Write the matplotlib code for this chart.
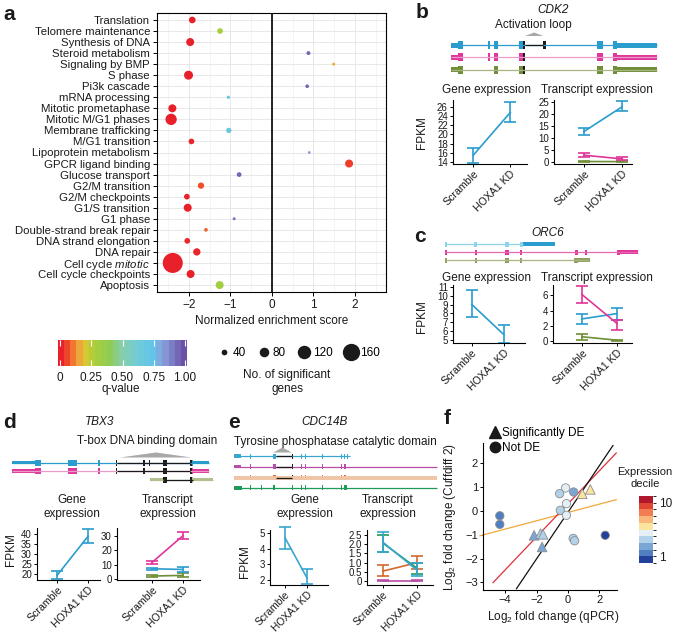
import numpy as np
import matplotlib
matplotlib.use("Agg")
import matplotlib.pyplot as plt
from matplotlib.colors import LinearSegmentedColormap, ListedColormap, BoundaryNorm, Normalize
from matplotlib.patches import Rectangle, Polygon
from matplotlib.lines import Line2D
import matplotlib.cm as cm

plt.rcParams['font.family'] = ['Liberation Sans', 'DejaVu Sans']
plt.rcParams['font.size'] = 8
plt.rcParams['mathtext.fontset'] = 'custom'
plt.rcParams['mathtext.rm'] = 'Liberation Sans'
plt.rcParams['mathtext.it'] = 'Liberation Sans:italic'
plt.rcParams['axes.linewidth'] = 0.8
plt.rcParams['axes.unicode_minus'] = True

# ---------------- DATA ----------------
# Panel a
pathways = ["Translation", "Telomere maintenance", "Synthesis of DNA", "Steroid metabolism",
            "Signaling by BMP", "S phase", "Pi3k cascade", "mRNA processing",
            "Mitotic prometaphase", "Mitotic M/G1 phases", "Membrane trafficking",
            "M/G1 transition", "Lipoprotein metabolism", "GPCR ligand binding",
            "Glucose transport", "G2/M transition", "G2/M checkpoints", "G1/S transition",
            "G1 phase", "Double-strand break repair", "DNA strand elongation", "DNA repair",
            r"Cell cycle $\it{mitotic}$", "Cell cycle checkpoints", "Apoptosis"]
nes = [-1.92, -1.25, -1.97, 0.88, 1.49, -2.01, 0.85, -1.05, -2.40, -2.43, -1.04, -1.94,
       0.90, 1.86, -0.79, -1.71, -2.05, -2.03, -0.91, -1.59, -2.04, -1.81, -2.39, -1.96, -1.26]
qvals = [0.0, 0.27, 0.0, 0.95, 0.16, 0.0, 0.95, 0.68, 0.0, 0.0, 0.68, 0.01, 0.85, 0.04,
         0.95, 0.06, 0.0, 0.0, 0.92, 0.08, 0.01, 0.01, 0.0, 0.0, 0.30]
ngenes = [50, 40, 64, 22, 12, 74, 19, 15, 64, 98, 36, 40, 9, 64, 30, 46, 40, 64, 12, 19,
          40, 57, 188, 64, 64]
size_keys = [40, 80, 120, 160]
q_ticks = [0, 0.25, 0.5, 0.75, 1.0]
q_ticklabels = ["0", "0.25", "0.50", "0.75", "1.00"]

conditions = ["Scramble", "HOXA1 KD"]

# Panel b (CDK2)
b_gene_mean = [15.5, 24.8]; b_gene_lo = [13.8, 22.6]; b_gene_hi = [17.0, 27.0]
b_tx_mean = {"blue": [12.8, 23.2], "pink": [2.8, 1.25], "olive": [0.15, 0.1]}
b_tx_lo = {"blue": [11.4, 21.4], "pink": [2.2, 0.6], "olive": [0.0, 0.0]}
b_tx_hi = {"blue": [14.4, 25.7], "pink": [3.6, 2.1], "olive": [0.3, 0.2]}

# Panel c (ORC6)
c_gene_mean = [9.0, 5.6]; c_gene_lo = [7.6, 4.7]; c_gene_hi = [10.6, 6.7]
c_tx_mean = {"olive": [0.55, 0.1], "blue": [2.9, 3.6], "pink": [6.1, 2.3]}
c_tx_lo = {"olive": [0.15, 0.05], "blue": [2.2, 2.75], "pink": [5.0, 1.5]}
c_tx_hi = {"olive": [0.95, 0.15], "blue": [3.6, 4.3], "pink": [7.2, 2.75]}

# Panel d (TBX3)
d_gene_mean = [19.2, 38.7]; d_gene_lo = [17.2, 35.2]; d_gene_hi = [21.5, 42.5]
d_tx_mean = {"olive": [1.8, 2.3], "blue": [7.0, 6.5], "pink": [11.5, 30.5]}
d_tx_lo = {"olive": [1.0, 1.0], "blue": [6.0, 5.0], "pink": [10.3, 28.0]}
d_tx_hi = {"olive": [2.5, 3.8], "blue": [7.8, 8.0], "pink": [12.8, 33.5]}

# Panel e (CDC14B)
e_gene_mean = [4.7, 2.1]; e_gene_lo = [4.0, 1.7]; e_gene_hi = [5.4, 2.7]
e_tx_mean = {"purple": [0.02, 0.02], "orange": [0.55, 1.0], "green": [2.05, 0.7], "blue": [2.1, 0.6]}
e_tx_lo = {"purple": [0.0, 0.0], "orange": [0.3, 0.65], "green": [1.6, 0.4], "blue": [1.6, 0.3]}
e_tx_hi = {"purple": [0.05, 0.05], "orange": [0.85, 1.35], "green": [2.5, 1.0], "blue": [2.65, 1.0]}

# Panel f
f_de_x = [0.91, 1.42, -2.16, -1.75, -1.59, -1.65]
f_de_y = [0.73, 0.91, -1.02, -0.95, -0.98, -1.51]
f_de_decile = [6, 6, 3, 4, 4, 3]
f_nde_x = [-4.34, -4.34, 2.37, 0.36, -0.15, -0.53, -0.10, -0.49, -0.10, 0.33, 0.42]
f_nde_y = [-0.20, -0.56, -1.02, 0.80, 0.97, 0.73, 0.31, 0.03, -0.18, -1.15, -1.25]
f_nde_decile = [2, 2, 1, 3, 5, 4, 5, 4, 5, 4, 4]
f_lines = {"black": (0.98, -0.05, -3.28, 2.86), "red": (0.695, 0.305, -4.77, 3.07),
           "orange": (0.175, -0.06, -5.6, 3.07)}
decile_colors = ['#23409a', '#4f7fc0', '#7aa6d6', '#b2d1ea', '#e4eff7', '#fbe4a0',
                 '#f9b879', '#f07e52', '#df4530', '#b2182b']

# Gene models (schematic coordinates)
CDK2_TRACKS = [
    {'span': (32, 650), 'utr': [(32, 58), (530, 650)],
     'exon': [(55, 68), (143, 150), (163, 175), (238, 250), (470, 490), (518, 532)],
     'dom': [(248, 256), (310, 317)], 'domline': [(256, 310)]},
    {'span': (32, 650), 'utr': [(32, 58), (530, 650)],
     'exon': [(55, 68), (143, 150), (163, 175), (238, 250), (470, 490), (518, 532)],
     'dom': [(248, 256)]},
    {'span': (32, 650), 'utr': [(32, 58), (530, 650)],
     'exon': [(55, 68), (163, 175), (238, 250), (470, 490), (518, 532)],
     'dom': [(248, 256)]},
]
CDK2_DOMAIN = (255, 310)
ORC6_TRACKS = [
    {'span': (15, 250), 'exon': [(15, 22), (103, 112), (196, 207), (240, 250)], 'utr': [(250, 345)]},
    {'span': (15, 595), 'exon': [(15, 22), (104, 111), (196, 206), (240, 247), (405, 413), (435, 441), (530, 540)],
     'utr': [(540, 595)]},
    {'span': (15, 450), 'exon': [(15, 22), (104, 110), (196, 206), (240, 247), (403, 415)], 'utr': [(415, 450)]},
]
TBX3_TRACKS = [
    {'span': (20, 612), 'utr': [(20, 92), (565, 612)], 'exon': [(90, 108), (188, 215), (280, 285), (555, 565)],
     'dom': [(332, 336), (414, 420), (432, 434), (475, 485), (555, 560)], 'domline': [(336, 555)]},
    {'span': (20, 612), 'utr': [(20, 92), (565, 612)], 'exon': [(90, 108), (188, 215), (280, 285), (555, 565)],
     'dom': [(332, 336), (414, 420), (475, 485), (555, 560)], 'domline': [(336, 555)]},
    {'span': (435, 625), 'utr': [(435, 475), (565, 625)], 'exon': [(555, 565)],
     'dom': [(475, 485), (555, 560)], 'domline': [(475, 565)]},
]
TBX3_DOMAIN = (345, 560)
CDC14B_TRACKS = [
    {'span': (28, 375), 'utr': [(28, 48)],
     'exon': [(75, 78), (145, 152), (229, 232), (241, 244), (291, 294), (347, 351), (356, 359), (365, 369)],
     'dom': [(200, 205)], 'domline': [(152, 200)]},
    {'span': (28, 635), 'utr': [(28, 48)],
     'exon': [(75, 78), (145, 152), (229, 232), (241, 244), (291, 294), (347, 351), (356, 364)],
     'dom': [(200, 205)], 'domline': [(152, 200)]},
    {'span': (28, 635), 'utr': [(28, 48)],
     'exon': [(75, 78), (145, 153), (229, 232), (241, 244), (291, 294), (347, 351), (356, 364)],
     'dom': [(200, 205)], 'domline': [(152, 200)]},
    {'span': (28, 635), 'utr': [(28, 50)],
     'exon': [(75, 78), (108, 110), (145, 150), (200, 205), (229, 232), (241, 244), (291, 294), (347, 351), (358, 365)]},
]
CDC14B_DOMAIN = (145, 200)

# colours
BLUE = '#2a9ccd'
PINK = '#e0359a'
OLIVE = '#6e8e37'
E_COL = {"blue": '#3aa6d0', "purple": '#b64fa6', "orange": '#d26a2c', "green": '#1f9a5b'}
TX_COL = {"blue": BLUE, "pink": PINK, "olive": OLIVE}
TXT = '#1a1a1a'
FS = 8.5      # titles / labels
YT = 7        # y tick labels in small panels
XT = 7.6      # rotated x tick labels

# ---------------- FIGURE ----------------
W, H = 675, 634
fig = plt.figure(figsize=(W / 100, H / 100), dpi=100)


def rect(x0, y0, x1, y1):
    return [x0 / W, 1 - y1 / H, (x1 - x0) / W, (y1 - y0) / H]


def T(x, y, s, **kw):
    kw.setdefault('color', TXT)
    fig.text(x / W, 1 - y / H, s, **kw)


def letter(x, y, s):
    T(x, y, s, fontsize=15, fontweight='bold', ha='left', va='center')


# ---- Panel a ----
qcmap = LinearSegmentedColormap.from_list('q', [
    (0.0, '#e8202a'), (0.07, '#f0552a'), (0.13, '#f59a3a'), (0.2, '#d6c832'),
    (0.27, '#a8cf3c'), (0.4, '#8fcc55'), (0.5, '#86ceaa'), (0.62, '#70cbd8'),
    (0.75, '#62c4ea'), (0.83, '#8a9fdc'), (1.0, '#6a50a6')])


def diam_px(n):
    return 1.83 + 0.0967 * n


axa = fig.add_axes(rect(157, 13, 386, 292))
ypos = np.arange(len(pathways))
axa.scatter(nes, ypos, s=[(diam_px(n) * 0.72) ** 2 for n in ngenes],
            c=[qcmap(q) for q in qvals], edgecolors='none', zorder=3)
axa.set_xlim(-2.77, 2.75)
axa.set_ylim(len(pathways) - 0.37, -0.63)
axa.set_yticks(ypos)
axa.set_yticklabels(pathways, fontsize=8.2, color=TXT)
axa.set_xticks([-2, -1, 0, 1, 2])
axa.set_xticklabels(['\u22122', '\u22121', '0', '1', '2'], fontsize=FS, color=TXT)
axa.set_xticks([-2.5, -1.5, -0.5, 0.5, 1.5, 2.5], minor=True)
axa.grid(True, which='major', color='#e4e4e4', lw=0.6)
axa.grid(True, which='minor', axis='x', color='#f0f0f0', lw=0.5)
axa.tick_params(which='minor', length=0)
axa.tick_params(which='major', length=3, width=0.7, pad=2)
axa.axvline(0, color='black', lw=1.2, zorder=2)
axa.set_axisbelow(True)
T(272, 321, "Normalized enrichment score", fontsize=FS, ha='center', va='center')
letter(3, 15, 'a')

# q colorbar
caxa = fig.add_axes(rect(58, 340, 187, 366))
qnorm = Normalize(vmin=-0.016, vmax=1.016)
bands = ListedColormap([qcmap(v) for v in np.linspace(0, 1, 21)])
cb = fig.colorbar(cm.ScalarMappable(norm=qnorm, cmap=bands), cax=caxa, orientation='horizontal')
cb.outline.set_visible(False)
cb.set_ticks(q_ticks)
cb.set_ticklabels(q_ticklabels)
caxa.tick_params(direction='in', color='white', labelcolor=TXT, length=4, width=0.8,
                 labelsize=FS, top=True, pad=4)
T(121, 389, "q-value", fontsize=FS, ha='center', va='center')

# size legend
size_handles = [Line2D([], [], ls='', marker='o', color='#1a1a1a', mec='none',
                       ms=diam_px(n) * 0.72) for n in size_keys]
fig.legend(size_handles, [str(n) for n in size_keys], loc='center',
           bbox_to_anchor=(298 / W, 1 - 353 / H), ncol=4, frameon=False,
           handletextpad=0.1, columnspacing=0.9, handlelength=1.3, fontsize=FS,
           borderpad=0, borderaxespad=0)
T(287, 375, "No. of significant", fontsize=FS, ha='center', va='center')
T(287, 389, "genes", fontsize=FS, ha='center', va='center')


# ---- helpers ----
def expr_axes(r, xlim, ylim, yticks, ytl=None, xt=XT):
    ax = fig.add_axes(rect(*r))
    ax.set_xlim(*xlim)
    ax.set_ylim(*ylim)
    for s in ['top', 'right']:
        ax.spines[s].set_visible(False)
    ax.set_xticks([1, 2])
    ax.set_xticklabels(conditions, rotation=45, ha='right', rotation_mode='anchor',
                       fontsize=xt, color=TXT)
    ax.set_yticks(yticks)
    if ytl is not None:
        ax.set_yticklabels(ytl)
    ax.tick_params(width=0.7, labelcolor=TXT)
    ax.tick_params(axis='x', length=2.5, pad=1)
    ax.tick_params(axis='y', length=2.5, labelsize=YT, pad=1.2)
    ax.patch.set_alpha(0)
    return ax


def series(ax, mean, lo, hi, color, lw=1.2):
    x = np.arange(1, len(mean) + 1)
    mean = np.asarray(mean); lo = np.asarray(lo); hi = np.asarray(hi)
    ax.plot(x, mean, color=color, lw=lw, clip_on=False)
    ax.errorbar(x, mean, yerr=[mean - lo, hi - mean], fmt='none', ecolor=color,
                elinewidth=lw, capsize=4.3, capthick=lw, clip_on=False)


def draw_gene(ax, tracks, ys, colors, exon_h, utr_h, line_colors=None, utr_colors=None,
              line_widths=None, dom_color='#1a1a1a'):
    for i, (tr, y, c) in enumerate(zip(tracks, ys, colors)):
        lc = line_colors[i] if line_colors else c
        uc = utr_colors[i] if utr_colors else c
        lwid = line_widths[i] if line_widths else 0.9
        s, e = tr['span']
        ax.plot([s, e], [y, y], color=lc, lw=lwid, solid_capstyle='butt')
        for a, b in tr.get('domline', []):
            ax.plot([a, b], [y, y], color=dom_color, lw=0.9, solid_capstyle='butt')
        for a, b in tr.get('utr', []):
            ax.add_patch(Rectangle((a, y - utr_h / 2), b - a, utr_h, color=uc, lw=0))
        for a, b in tr.get('exon', []):
            ax.add_patch(Rectangle((a, y - exon_h / 2), b - a, exon_h, color=c, lw=0))
        for a, b in tr.get('dom', []):
            ax.add_patch(Rectangle((a, y - exon_h / 2), b - a, exon_h, color=dom_color, lw=0))


def domain_tri(ax, span, ybase, yapex):
    a, b = span
    ax.add_patch(Polygon([[a, ybase], [b, ybase], [(a + b) / 2, yapex]], closed=True,
                         color='#a8a8a8', lw=0))


def gene_axes(x0, y0, x1, y1, ox):
    ax = fig.add_axes(rect(x0, y0, x1, y1))
    ax.set_xlim((x0 - ox) * 3, (x1 - ox) * 3)
    ax.set_ylim(y1, y0)
    ax.axis('off')
    return ax


# ---- Panel b ----
letter(416, 13, 'b')
T(553, 10, "CDK2", fontsize=FS, style='italic', ha='center', va='center')
T(533, 25, "Activation loop", fontsize=FS, ha='center', va='center')
gb = gene_axes(443, 28, 662, 76, 440)
draw_gene(gb, CDK2_TRACKS, [45, 57.3, 69.5], [BLUE, PINK, OLIVE], 8, 5,
          line_colors=[BLUE, '#ea9cc8', '#a9b684'])
domain_tri(gb, CDK2_DOMAIN, 36, 32.5)

T(487, 90, "Gene expression", fontsize=FS, ha='center', va='center')
T(597, 90, "Transcript expression", fontsize=FS, ha='center', va='center')
ab1 = expr_axes((453, 100, 527, 164), (0.45, 2.45), (13.56, 27.5), [14, 16, 18, 20, 22, 24, 26])
series(ab1, b_gene_mean, b_gene_lo, b_gene_hi, BLUE)
ab2 = expr_axes((554, 100, 632, 164), (0.21, 2.26), (-0.9, 26.05), [0, 5, 10, 15, 20, 25])
for k in ["olive", "pink", "blue"]:
    series(ab2, b_tx_mean[k], b_tx_lo[k], b_tx_hi[k], TX_COL[k])
T(422, 133, "FPKM", fontsize=FS, rotation=90, ha='center', va='center')

# ---- Panel c ----
letter(414, 236, 'c')
T(548, 233, "ORC6", fontsize=FS, style='italic', ha='center', va='center')
gc = gene_axes(443, 238, 650, 265, 440)
draw_gene(gc, ORC6_TRACKS, [244, 252, 260], ['#8ed3ea', PINK, '#8fa060'], 5, 3.5,
          line_colors=['#8ed3ea', '#e36aae', '#a9b684'], utr_colors=[BLUE, PINK, '#8fa060'])
T(487, 278, "Gene expression", fontsize=FS, ha='center', va='center')
T(597, 278, "Transcript expression", fontsize=FS, ha='center', va='center')
ac1 = expr_axes((453, 285, 525, 343), (0.41, 2.66), (4.66, 11.2), [5, 6, 7, 8, 9, 10, 11])
series(ac1, c_gene_mean, c_gene_lo, c_gene_hi, BLUE)
ac2 = expr_axes((553, 285, 632, 343), (0.17, 2.43), (-0.27, 7.36), [0, 2, 4, 6])
for k in ["olive", "blue", "pink"]:
    series(ac2, c_tx_mean[k], c_tx_lo[k], c_tx_hi[k], TX_COL[k])
T(422, 317, "FPKM", fontsize=FS, rotation=90, ha='center', va='center')

# ---- Panel d ----
letter(3, 423, 'd')
T(100, 422, "TBX3", fontsize=FS, style='italic', ha='center', va='center')
T(147, 441, "T-box DNA binding domain", fontsize=FS, ha='center', va='center')
gd = gene_axes(7, 447, 215, 485, 5)
draw_gene(gd, TBX3_TRACKS, [462.5, 471, 479.5], [BLUE, PINK, '#b5bf8e'], 6, 3.5,
          line_colors=[BLUE, '#ea9cc8', '#b5bf8e'])
domain_tri(gd, TBX3_DOMAIN, 457.5, 452.5)
T(72, 507, "Gene\nexpression", fontsize=FS, ha='center', va='center', linespacing=1.15)
T(168, 507, "Transcript\nexpression", fontsize=FS, ha='center', va='center', linespacing=1.15)
ad1 = expr_axes((37, 528, 100, 580), (0.35, 2.39), (16.9, 42.9), [20, 25, 30, 35, 40])
series(ad1, d_gene_mean, d_gene_lo, d_gene_hi, BLUE)
ad2 = expr_axes((117, 528, 200, 580), (-0.13, 2.55), (-1.0, 36.0), [0, 10, 20, 30])
for k in ["olive", "blue", "pink"]:
    series(ad2, d_tx_mean[k], d_tx_lo[k], d_tx_hi[k], TX_COL[k])
T(11, 550, "FPKM", fontsize=FS, rotation=90, ha='center', va='center')

# ---- Panel e ----
letter(228, 423, 'e')
T(325, 422, "CDC14B", fontsize=FS, style='italic', ha='center', va='center')
T(335, 442, "Tyrosine phosphatase catalytic domain", fontsize=FS, ha='center', va='center')
ge = gene_axes(230, 445, 450, 492, 225)
draw_gene(ge, CDC14B_TRACKS, [456, 466.7, 477.5, 487.8],
          [E_COL["blue"], E_COL["purple"], E_COL["orange"], E_COL["green"]], 5, 3.5,
          line_colors=[E_COL["blue"], E_COL["purple"], '#f0c4a6', E_COL["green"]],
          line_widths=[0.9, 0.9, 2.8, 0.9])
domain_tri(ge, CDC14B_DOMAIN, 452.5, 447.5)
T(305, 507, "Gene\nexpression", fontsize=FS, ha='center', va='center', linespacing=1.15)
T(388, 507, "Transcript\nexpression", fontsize=FS, ha='center', va='center', linespacing=1.15)
ae1 = expr_axes((270, 530, 328, 585), (0.32, 2.95), (1.65, 5.2), [2, 3, 4, 5], xt=7.4)
series(ae1, e_gene_mean, e_gene_lo, e_gene_hi, E_COL["blue"])
ae2 = expr_axes((367, 530, 433, 585), (0.53, 2.47), (-0.2, 2.76), [0, 0.5, 1.0, 1.5, 2.0, 2.5],
                ["0", "0.5", "1.0", "1.5", "2.0", "2.5"], xt=7.4)
for k in ["purple", "orange", "green", "blue"]:
    series(ae2, e_tx_mean[k], e_tx_lo[k], e_tx_hi[k], E_COL[k])
T(245, 562, "FPKM", fontsize=FS, rotation=90, ha='center', va='center')

# ---- Panel f ----
letter(444, 419, 'f')
af = fig.add_axes(rect(483, 443, 617, 590))
af.set_xlim(-5.41, 3.12)
af.set_ylim(-3.32, 2.86)
for s in ['top', 'right']:
    af.spines[s].set_visible(False)
af.set_xticks([-4, -2, 0, 2])
af.set_xticklabels(['\u22124', '\u22122', '0', '2'])
af.set_yticks([-3, -2, -1, 0, 1, 2])
af.set_yticklabels(['\u22123', '\u22122', '\u22121', '0', '1', '2'])
af.tick_params(length=2.5, width=0.7, pad=1.2, labelsize=8, labelcolor=TXT)
af.patch.set_alpha(0)
for name, col in [("orange", '#f2a93a'), ("red", '#e0303a'), ("black", '#111111')]:
    m, b0, xa, xb = f_lines[name]
    xs = np.array([xa, xb])
    af.plot(xs, m * xs + b0, color=col, lw=0.9, clip_on=False, zorder=2)
af.scatter(f_nde_x, f_nde_y, c=[decile_colors[d - 1] for d in f_nde_decile], marker='o',
           s=36, edgecolors='#8c8c8c', linewidths=0.6, zorder=3)
af.scatter(f_de_x, f_de_y, c=[decile_colors[d - 1] for d in f_de_decile], marker='^',
           s=48, edgecolors='#8c8c8c', linewidths=0.6, zorder=3)
T(553, 617, r"Log$_2$ fold change (qPCR)", fontsize=FS, ha='center', va='center')
T(450, 517, r"Log$_2$ fold change (Cuffdiff 2)", fontsize=FS, rotation=90, ha='center', va='center')
fh = [Line2D([], [], ls='', marker='^', color='#1a1a1a', ms=8),
      Line2D([], [], ls='', marker='o', color='#1a1a1a', ms=7.5)]
fig.legend(fh, ["Significantly DE", "Not DE"], loc='upper left',
           bbox_to_anchor=(489 / W, 1 - 427 / H), frameon=False, handletextpad=0.1,
           handlelength=1.0, labelspacing=0.25, fontsize=FS, borderpad=0, borderaxespad=0)

T(645, 472, "Expression", fontsize=8, ha='center', va='center')
T(645, 484, "decile", fontsize=8, ha='center', va='center')
caxf = fig.add_axes(rect(639, 496, 653, 563))
dnorm = BoundaryNorm(np.arange(0.5, 11.5, 1), 10)
cbf = fig.colorbar(cm.ScalarMappable(norm=dnorm, cmap=ListedColormap(decile_colors)),
                   cax=caxf, orientation='vertical')
cbf.outline.set_visible(False)
cbf.set_ticks([1.4, 9.6])
cbf.set_ticklabels(["1", "10"])
caxf.tick_params(length=0, labelsize=FS, labelcolor=TXT, pad=4)

fig.savefig("out.png", dpi=100)
